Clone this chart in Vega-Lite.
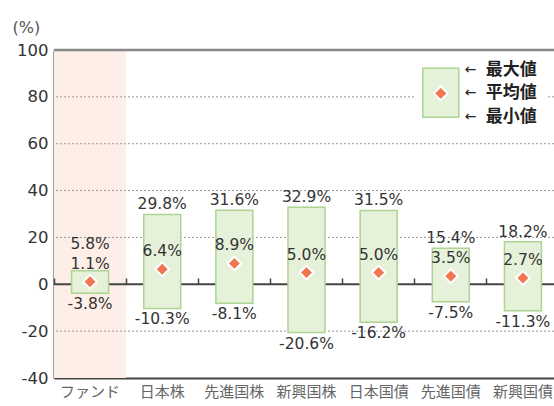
{
  "$schema": "https://vega.github.io/schema/vega-lite/v6.json",
  "width": 500,
  "height": 328,
  "autosize": "none",
  "padding": {"left": 54, "top": 50, "right": 0, "bottom": 28},
  "datasets": {
    "main": [
      {"cat": "ファンド", "max": 5.8, "mean": 1.1, "min": -3.8},
      {"cat": "日本株", "max": 29.8, "mean": 6.4, "min": -10.3},
      {"cat": "先進国株", "max": 31.6, "mean": 8.9, "min": -8.1},
      {"cat": "新興国株", "max": 32.9, "mean": 5.0, "min": -20.6},
      {"cat": "日本国債", "max": 31.5, "mean": 5.0, "min": -16.2},
      {"cat": "先進国債", "max": 15.4, "mean": 3.5, "min": -7.5},
      {"cat": "新興国債", "max": 18.2, "mean": 2.7, "min": -11.3}
    ],
    "grid": [{"v": 80}, {"v": 60}, {"v": 40}, {"v": 20}, {"v": -20}]
  },
  "data": {"name": "main"},
  "transform": [
    {"calculate": "datum.max - datum.mean < 8 ? datum.mean + 12 : datum.max", "as": "maxPos"},
    {"calculate": "(datum.max < 0 ? '-' : '') + format(abs(datum.max), '.1f') + '%'", "as": "maxLab"},
    {"calculate": "(datum.mean < 0 ? '-' : '') + format(abs(datum.mean), '.1f') + '%'", "as": "meanLab"},
    {"calculate": "(datum.min < 0 ? '-' : '') + format(abs(datum.min), '.1f') + '%'", "as": "minLab"}
  ],
  "resolve": {"axis": {"x": "independent"}},
  "encoding": {
    "x": {
      "field": "cat", "type": "nominal", "sort": null,
      "scale": {"domain": ["ファンド", "日本株", "先進国株", "新興国株", "日本国債", "先進国債", "新興国債"], "range": [0, 505], "paddingInner": 0, "paddingOuter": 0},
      "axis": null
    }
  },
  "layer": [
    {
      "transform": [{"filter": "datum.cat === 'ファンド'"}],
      "mark": {"type": "bar", "width": {"band": 1}, "fill": "#fdefe7"},
      "encoding": {
        "x": {
          "field": "cat", "type": "nominal", "sort": null,
          "axis": {
            "title": null, "labelAngle": 0, "ticks": false, "domainColor": "#444", "domainWidth": 2,
            "labelFont": "Noto Sans CJK JP", "labelFontSize": 15, "labelColor": "#666", "labelPadding": 6
          }
        },
        "y": {
          "datum": 100, "type": "quantitative",
          "scale": {"domain": [-40, 100], "nice": false, "zero": false},
          "axis": {
            "values": [-40, -20, 0, 20, 40, 60, 80, 100], "grid": false, "ticks": false,
            "domainColor": "#444", "domainWidth": 2, "labelFont": "DejaVu Sans", "labelFontSize": 16.5,
            "labelColor": "#333", "labelPadding": 6, "labelExpr": "'' + datum.value",
            "title": "(%)", "titleAngle": 0, "titleAlign": "left", "titleBaseline": "middle",
            "titleX": -42, "titleY": -23, "titleFont": "DejaVu Sans", "titleFontSize": 16,
            "titleFontWeight": "normal", "titleColor": "#555"
          }
        },
        "y2": {"datum": -40}
      }
    },
    {
      "data": {"name": "grid"},
      "mark": {"type": "rule", "color": "#999", "strokeDash": [2, 2], "strokeWidth": 1},
      "encoding": {"x": null, "y": {"field": "v", "type": "quantitative"}}
    },
    {
      "data": {"values": [{}]},
      "mark": {"type": "bar", "width": 132, "xOffset": 31, "fill": "white"},
      "encoding": {"x": {"datum": "先進国債", "axis": null}, "y": {"datum": 83}, "y2": {"datum": 77}}
    },
    {
      "data": {"values": [{}]},
      "mark": {"type": "rule", "color": "#444", "strokeWidth": 2},
      "encoding": {"x": null, "y": {"datum": 0}}
    },
    {
      "data": {"values": [{}]},
      "mark": {"type": "rule", "color": "#888", "strokeWidth": 2.5},
      "encoding": {"x": null, "y": {"datum": 100}}
    },
    {
      "mark": {"type": "bar", "width": 37, "fill": "#e6f1da", "stroke": "#acd492", "strokeWidth": 1.5},
      "encoding": {
        "x": {
          "field": "cat", "type": "nominal", "sort": null,
          "axis": {
            "orient": "bottom", "offset": -94, "labels": false, "domain": false, "grid": false,
            "ticks": true, "tickSize": -6, "tickWidth": 1.5, "tickColor": "#444", "bandPosition": 0,
            "title": null, "zindex": 1
          }
        },
        "y": {"field": "min", "type": "quantitative"}, "y2": {"field": "max"}
      }
    },
    {
      "mark": {"type": "point", "shape": "diamond", "filled": true, "size": 190, "fill": "#ef7650", "stroke": "white", "strokeWidth": 2, "opacity": 1},
      "encoding": {"y": {"field": "mean", "type": "quantitative"}}
    },
    {
      "mark": {"type": "text", "font": "DejaVu Sans", "fontSize": 15.5, "color": "#333", "baseline": "alphabetic", "dy": -5},
      "encoding": {"y": {"field": "maxPos", "type": "quantitative"}, "text": {"field": "maxLab"}}
    },
    {
      "mark": {"type": "text", "font": "DejaVu Sans", "fontSize": 15.5, "color": "#333", "baseline": "alphabetic", "dy": -13},
      "encoding": {"y": {"field": "mean", "type": "quantitative"}, "text": {"field": "meanLab"}}
    },
    {
      "mark": {"type": "text", "font": "DejaVu Sans", "fontSize": 15.5, "color": "#333", "baseline": "top", "dy": 4},
      "encoding": {"y": {"field": "min", "type": "quantitative"}, "text": {"field": "minLab"}}
    },
    {
      "data": {"values": [{}]},
      "mark": {"type": "bar", "width": 36, "xOffset": -10, "fill": "#e6f1da", "stroke": "#acd492", "strokeWidth": 1.5},
      "encoding": {"x": {"datum": "先進国債", "axis": null}, "y": {"datum": 92.2}, "y2": {"datum": 71.3}}
    },
    {
      "data": {"values": [{}]},
      "mark": {"type": "point", "shape": "diamond", "filled": true, "size": 190, "xOffset": -10, "fill": "#ef7650", "stroke": "white", "strokeWidth": 2, "opacity": 1},
      "encoding": {"x": {"datum": "先進国債", "axis": null}, "y": {"datum": 81.5}}
    },
    {
      "data": {"values": [{}]},
      "mark": {"type": "text", "text": "←", "align": "left", "baseline": "middle", "xOffset": 14, "font": "DejaVu Sans", "fontSize": 14, "color": "#222"},
      "encoding": {"x": {"datum": "先進国債", "axis": null}, "y": {"datum": 91.3}}
    },
    {
      "data": {"values": [{}]},
      "mark": {"type": "text", "text": "←", "align": "left", "baseline": "middle", "xOffset": 14, "font": "DejaVu Sans", "fontSize": 14, "color": "#222"},
      "encoding": {"x": {"datum": "先進国債", "axis": null}, "y": {"datum": 81.5}}
    },
    {
      "data": {"values": [{}]},
      "mark": {"type": "text", "text": "←", "align": "left", "baseline": "middle", "xOffset": 14, "font": "DejaVu Sans", "fontSize": 14, "color": "#222"},
      "encoding": {"x": {"datum": "先進国債", "axis": null}, "y": {"datum": 71.3}}
    },
    {
      "data": {"values": [{}]},
      "mark": {"type": "text", "text": "最大値", "align": "left", "baseline": "middle", "xOffset": 35, "font": "Noto Sans CJK JP", "fontSize": 17, "fontWeight": "bold", "color": "#222"},
      "encoding": {"x": {"datum": "先進国債", "axis": null}, "y": {"datum": 91.3}}
    },
    {
      "data": {"values": [{}]},
      "mark": {"type": "text", "text": "平均値", "align": "left", "baseline": "middle", "xOffset": 35, "font": "Noto Sans CJK JP", "fontSize": 17, "fontWeight": "bold", "color": "#222"},
      "encoding": {"x": {"datum": "先進国債", "axis": null}, "y": {"datum": 81.5}}
    },
    {
      "data": {"values": [{}]},
      "mark": {"type": "text", "text": "最小値", "align": "left", "baseline": "middle", "xOffset": 35, "font": "Noto Sans CJK JP", "fontSize": 17, "fontWeight": "bold", "color": "#222"},
      "encoding": {"x": {"datum": "先進国債", "axis": null}, "y": {"datum": 71.3}}
    }
  ],
  "config": {"view": {"stroke": null}, "background": "white"}
}
